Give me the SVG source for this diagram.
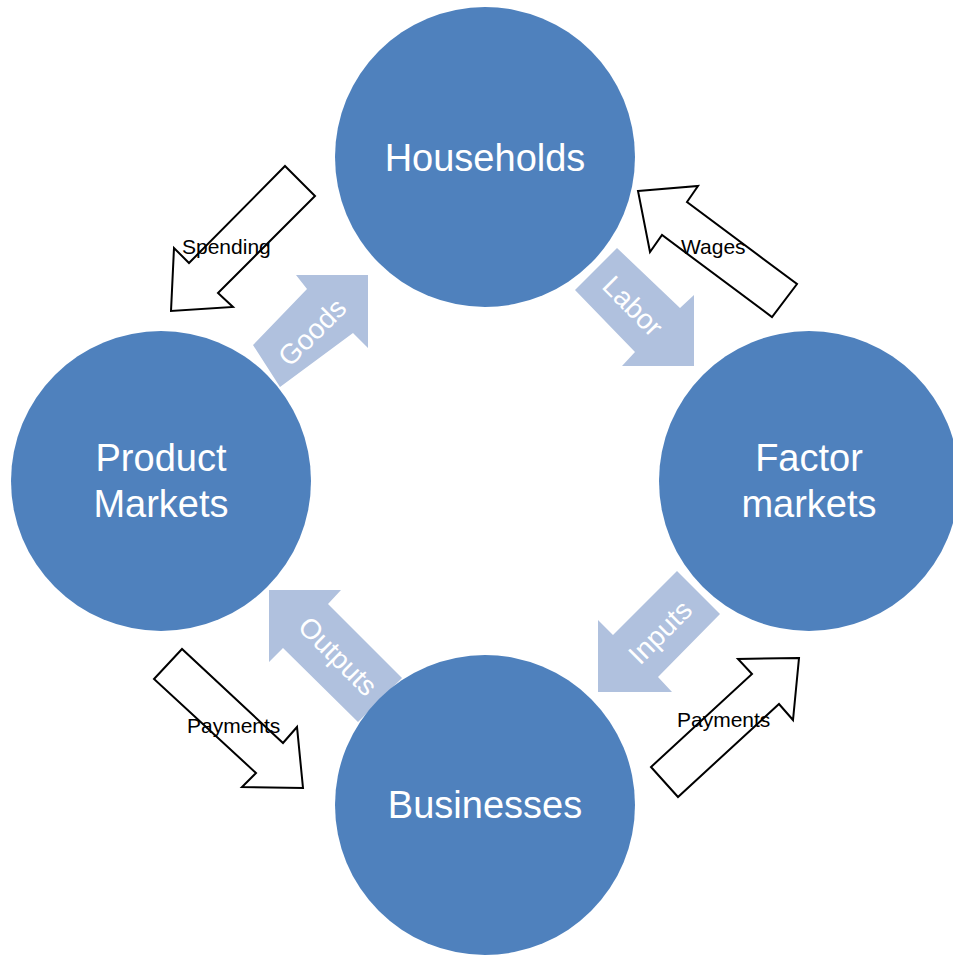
<svg xmlns="http://www.w3.org/2000/svg" width="953" height="958" viewBox="0 0 953 958">
<style>
.node{fill:#4F81BD}
.ntext{font-family:"Liberation Sans",Arial,sans-serif;font-size:38px;fill:#ffffff;text-anchor:middle}
.flow{fill:#B0C1DE;stroke:none}
.ftext{font-family:"Liberation Sans",Arial,sans-serif;font-size:28px;fill:#ffffff;text-anchor:middle}
.money{fill:#ffffff;stroke:#000000;stroke-width:2;stroke-linejoin:miter}
.mtext{font-family:"Liberation Sans",Arial,sans-serif;font-size:21px;fill:#000000}
</style>
<rect width="953" height="958" fill="#ffffff"/>
<g id="connectors">
  <g id="goods">
    <polygon class="flow" points="368,275 296,275 307,289 253,345 280,387 353,333 368,348"/>
    <text class="ftext" transform="translate(312,332) rotate(-45)" dy="0.35em">Goods</text>
  </g>
  <g id="labor">
    <polygon class="flow" points="617,248 575,290 635,352 622,366 694,366 694,295 680,308"/>
    <text class="ftext" transform="translate(633,306) rotate(45)" dy="0.35em">Labor</text>
  </g>
  <g id="outputs">
    <polygon class="flow" points="269,590 341,590 328,604 402,678 358,722 283,648 269,662"/>
    <text class="ftext" transform="translate(338,656) rotate(45)" dy="0.35em">Outputs</text>
  </g>
  <g id="inputs">
    <polygon class="flow" points="677,571 720,614 658,677 672,692 598,692 598,620 613,635"/>
    <text class="ftext" transform="translate(660,632) rotate(-45)" dy="0.35em">Inputs</text>
  </g>
  <g id="spending">
    <polygon class="money" points="285,166 315,196 218,293 233,307 171,311 174,248 189,263"/>
    <text class="mtext" x="182" y="254">Spending</text>
  </g>
  <g id="wages">
    <polygon class="money" points="638,191 698,186 687,202 797,284 772,317 662,235 650,252"/>
    <text class="mtext" x="681" y="254">Wages</text>
  </g>
  <g id="payments-left">
    <polygon class="money" points="182,649 154,679 256,773 242,787 303,788 297,727 283,743"/>
    <text class="mtext" x="187" y="733">Payments</text>
  </g>
  <g id="payments-right">
    <polygon class="money" points="799,658 738,659 752,674 651,767 678,797 779,704 793,720"/>
    <text class="mtext" x="677" y="727">Payments</text>
  </g>
</g>
<g id="households">
  <circle class="node" cx="485" cy="157" r="150"/>
  <text class="ntext" x="485" y="171">Households</text>
</g>
<g id="product-markets">
  <circle class="node" cx="161" cy="481" r="150"/>
  <text class="ntext" x="161" y="471">Product</text>
  <text class="ntext" x="161" y="517">Markets</text>
</g>
<g id="factor-markets">
  <circle class="node" cx="809" cy="481" r="150"/>
  <text class="ntext" x="809" y="471">Factor</text>
  <text class="ntext" x="809" y="517">markets</text>
</g>
<g id="businesses">
  <circle class="node" cx="485" cy="805" r="150"/>
  <text class="ntext" x="485" y="818">Businesses</text>
</g>
</svg>
